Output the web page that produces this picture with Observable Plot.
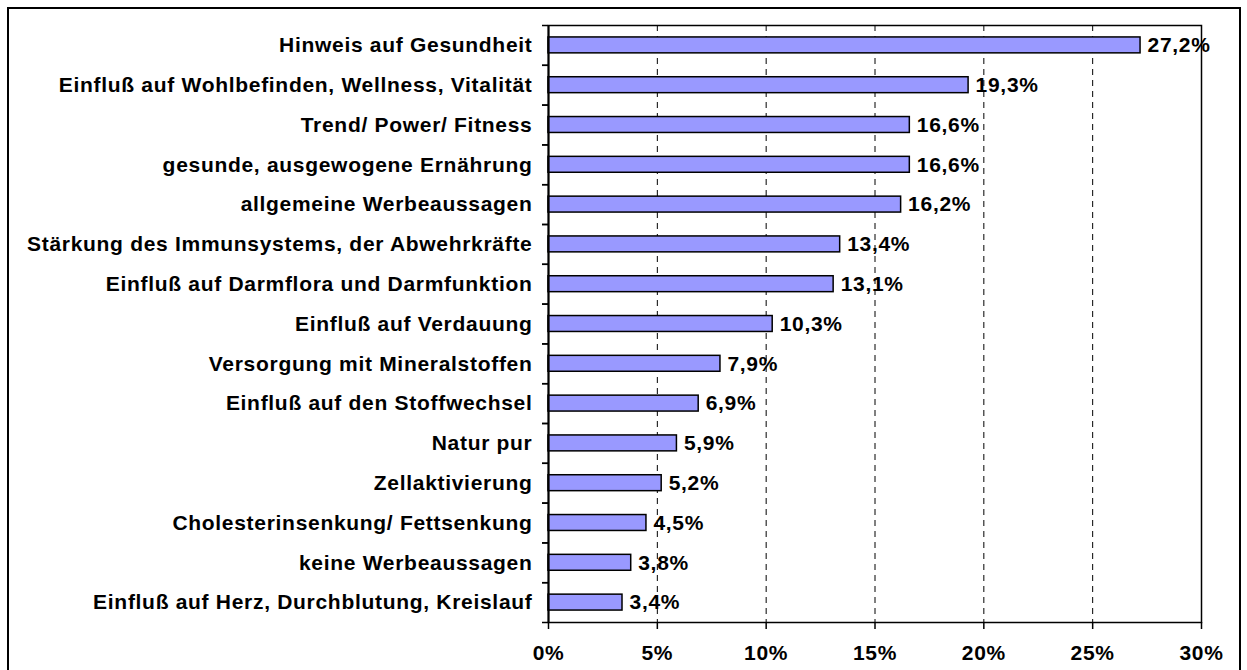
<!DOCTYPE html>
<html><head><meta charset="utf-8">
<script src="https://cdn.jsdelivr.net/npm/d3@7"></script>
<script src="https://cdn.jsdelivr.net/npm/@observablehq/plot@0.6"></script>
<style>
html,body{margin:0;padding:0;background:#fff;overflow:hidden;width:1247px;height:670px;}
#box{position:absolute;left:7px;top:7px;width:1234px;height:720px;border:2px solid #000;box-sizing:border-box;}
#chart{position:absolute;left:0;top:0;}
</style></head><body><div id="box"></div><div id="chart"></div>
<script>
const categories = [
  "Hinweis auf Gesundheit",
  "Einfluß auf Wohlbefinden, Wellness, Vitalität",
  "Trend/ Power/ Fitness",
  "gesunde, ausgewogene Ernährung",
  "allgemeine Werbeaussagen",
  "Stärkung des Immunsystems, der Abwehrkräfte",
  "Einfluß auf Darmflora und Darmfunktion",
  "Einfluß auf Verdauung",
  "Versorgung mit Mineralstoffen",
  "Einfluß auf den Stoffwechsel",
  "Natur pur",
  "Zellaktivierung",
  "Cholesterinsenkung/ Fettsenkung",
  "keine Werbeaussagen",
  "Einfluß auf Herz, Durchblutung, Kreislauf"
];
const values = [27.2, 19.3, 16.6, 16.6, 16.2, 13.4, 13.1, 10.3, 7.9, 6.9, 5.9, 5.2, 4.5, 3.8, 3.4];
const xTicks = [0, 5, 10, 15, 20, 25, 30];

const data = categories.map((c, i) => ({category: c, value: values[i]}));
const fmt = v => v.toFixed(1).replace(".", ",") + "%";
const pct = d => d + "%";

const plot = Plot.plot({
  width: 1247, height: 670,
  marginLeft: 548, marginRight: 46, marginTop: 25, marginBottom: 48,
  style: {fontFamily: "'Liberation Sans', Arial, sans-serif", fontSize: "21px", fontWeight: "bold", color: "#000", background: "transparent", letterSpacing: "0.7px"},
  x: {domain: [0, 30], ticks: xTicks, tickFormat: pct, label: null},
  y: {domain: categories, paddingInner: 0.6, paddingOuter: 0.3, round: false, label: null},
  marks: [
    Plot.gridX(xTicks.slice(1, -1), {stroke: "#000", strokeOpacity: 1, strokeDasharray: "6,5", strokeWidth: 1}),
    Plot.barX(data, {x: "value", y: "category", fill: "#9999ff", stroke: "#000", strokeWidth: 1.5}),
    Plot.text(data, {x: "value", y: "category", text: d => fmt(d.value), textAnchor: "start", dx: 7}),
    Plot.frame({stroke: "#000", strokeWidth: 1.5}),
    Plot.ruleX([0], {stroke: "#000", strokeWidth: 2}),
    Plot.axisX(xTicks, {tickSize: 7, tickPadding: 16, label: null, tickFormat: pct, stroke: "#000", strokeWidth: 1.5}),
    Plot.axisY({tickSize: 0, tickPadding: 16, label: null}),
    Plot.axisY({text: null, tickSize: 6, dy: 19.9, label: null, stroke: "#000", strokeWidth: 1.5}),
    Plot.axisY({text: null, tickSize: 6, dy: -19.9, label: null, stroke: "#000", strokeWidth: 1.5})
  ]
});
document.getElementById("chart").appendChild(plot);
</script>
</body></html>
